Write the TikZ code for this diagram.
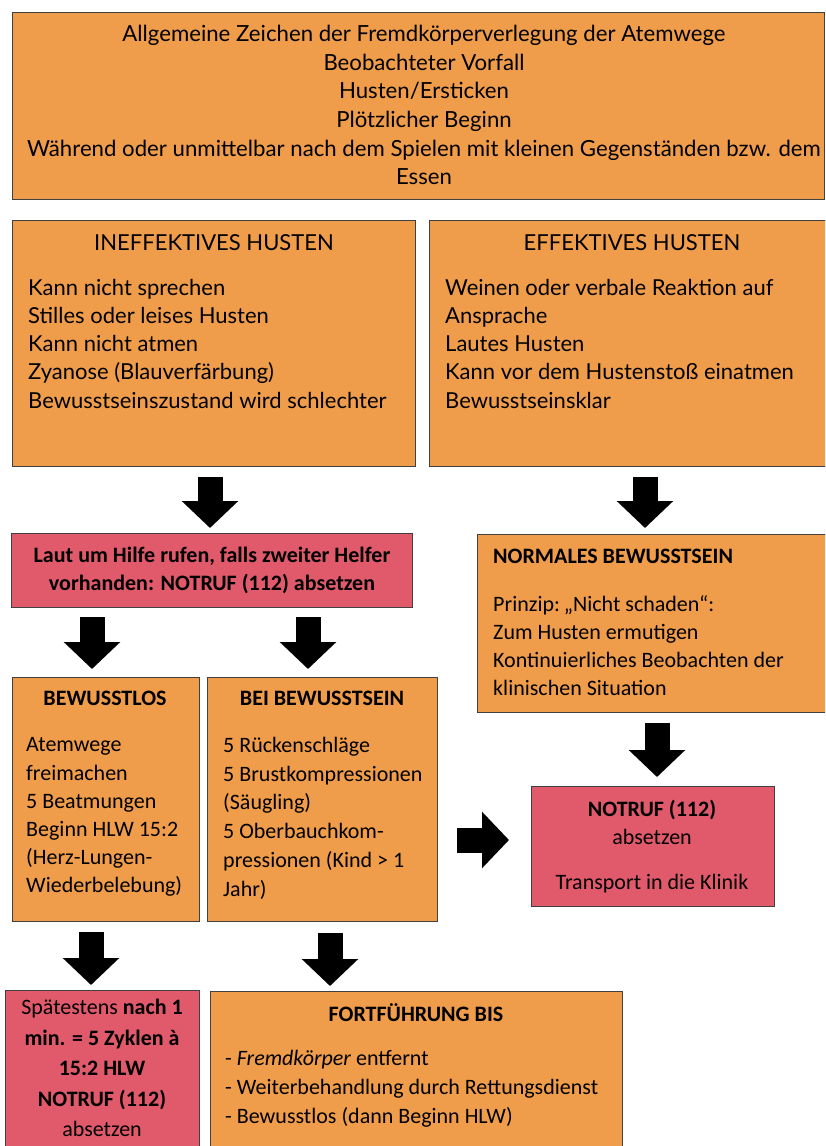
\documentclass[tikz,border=0pt]{standalone}
\usepackage{fontspec}
\setmainfont{Carlito}
\newfontfamily\lato{Lato}
\usetikzlibrary{arrows.meta}
\definecolor{orangeC}{RGB}{240,157,75}
\definecolor{pinkC}{RGB}{224,90,107}
\tikzset{
  x=1pt, y=-1pt,
  boxo/.style={draw=black!75, line width=0.9pt, fill=orangeC},
  boxp/.style={draw=black!75, line width=0.9pt, fill=pinkC},
  txt/.style={inner sep=0pt, anchor=north},
  txtl/.style={inner sep=0pt, anchor=north west, align=left},
  fatarrow/.style={line width=25pt, -{Triangle[width=55pt,length=27pt]}},
}
\newcommand{\fs}[2]{\fontsize{#1}{#2}\selectfont}
\begin{document}
\begin{tikzpicture}
\useasboundingbox (0,0) rectangle (825,1146);
\clip (0,0) rectangle (825,1146);
% boxes
\draw[boxo] (12,12) rectangle (824,199);
\draw[boxo] (12,220) rectangle (415,466);
\draw[boxo] (429,220) rectangle (830,466);
\draw[boxp] (11,533) rectangle (412,607);
\draw[boxo] (477,534) rectangle (830,712);
\draw[boxo] (12,677) rectangle (199,921);
\draw[boxo] (207,677) rectangle (437,921);
\draw[boxp] (531,786) rectangle (774,906);
\draw[boxp] (5,990) rectangle (199,1160);
\draw[boxo] (210,991) rectangle (622,1160);
% texts
\node[txt, align=center, font={\lato\fs{22.2}{28.6}}] (topT) at (424,21.5) {\strut Allgemeine Zeichen der Fremdkörperverlegung der Atemwege\\
Beobachteter Vorfall\\ Husten/Ersticken\\ Plötzlicher Beginn\\
Während oder unmittelbar nach dem Spielen mit kleinen Gegenständen bzw. dem\\ Essen};
\node[txt, font={\lato\fs{22}{28.3}}] (inT) at (214,230) {\strut INEFFEKTIVES HUSTEN};
\node[txtl, font={\lato\fs{22}{28.3}}] (inL) at (28,275) {\strut Kann nicht sprechen\\ Stilles oder leises Husten\\ Kann nicht atmen\\ Zyanose (Blauverfärbung)\\ Bewusstseinszustand wird schlechter};
\node[txt, font={\lato\fs{22}{28.3}}] (efT) at (632,230) {\strut EFFEKTIVES HUSTEN};
\node[txtl, font={\lato\fs{22}{28.3}}] (efL) at (445,275) {\strut Weinen oder verbale Reaktion auf\\ Ansprache\\ Lautes Husten\\ Kann vor dem Hustenstoß einatmen\\ Bewusstseinsklar};
\node[txt, align=center, font={\fs{22}{28}\bfseries}] (lautT) at (212,543) {\strut Laut um Hilfe rufen, falls zweiter Helfer\\ vorhanden: NOTRUF (112) absetzen};
\node[txtl, font={\fs{22}{28}\bfseries}] (normT) at (493,544) {\strut NORMALES BEWUSSTSEIN};
\node[txtl, font={\fs{22}{28}}] (normL) at (493,592) {\strut Prinzip:~\kern-1pt„Nicht schaden“:\\ Zum Husten ermutigen\\ Kontinuierliches Beobachten der\\ klinischen Situation};
\node[txt, font={\fs{22}{28}\bfseries}] (blT) at (105,686) {\strut BEWUSSTLOS};
\node[txtl, font={\fs{22}{28.2}}] (blL) at (26,732) {\strut Atemwege\\ freimachen\\ 5 Beatmungen\\ Beginn HLW 15:2\\ (Herz-Lungen-\\ Wiederbelebung)};
\node[txt, font={\fs{22}{28}\bfseries}] (bbT) at (322,686) {\strut BEI BEWUSSTSEIN};
\node[txtl, font={\fs{22}{28.8}}] (bbL) at (223,732) {\strut 5 Rückenschläge\\ 5 Brustkompressionen\\ (Säugling)\\ 5 Oberbauchkom-\\ pressionen (Kind > 1\\ Jahr)};
\node[txt, align=center, font={\fs{22}{28.5}}] (ntT) at (652,796) {\strut\textbf{NOTRUF (112)}\\ absetzen\\[16pt] Transport in die Klinik};
\node[txt, align=center, font={\fs{22}{30.5}}] (spT) at (102,993) {\strut Spätestens \textbf{nach 1}\\ \textbf{min. = 5 Zyklen à}\\ \textbf{15:2 HLW}\\ \textbf{NOTRUF (112)}\\ absetzen};
\node[txt, font={\fs{22}{28.5}\bfseries}] (foT) at (416,1001) {\strut FORTFÜHRUNG BIS};
\node[txtl, font={\fs{22}{29}}] (foL) at (225,1045) {\strut - \textit{Fremdkörper} entfernt\\ - Weiterbehandlung durch Rettungsdienst\\ - Bewusstlos (dann Beginn HLW)};
% arrows
\coordinate (a1s) at (210,477); \coordinate (a1e) at (210,528);
\coordinate (a2s) at (645,477); \coordinate (a2e) at (645,528);
\coordinate (a3s) at (92,617);  \coordinate (a3e) at (92,669);
\coordinate (a4s) at (308,617); \coordinate (a4e) at (308,669);
\coordinate (a5s) at (457,840); \coordinate (a5e) at (509,840);
\coordinate (a6s) at (657,723); \coordinate (a6e) at (657,777);
\coordinate (a7s) at (91,932);  \coordinate (a7e) at (91,985);
\coordinate (a8s) at (330,933); \coordinate (a8e) at (330,986);
\foreach \i in {1,...,8} \draw[fatarrow] (a\i s) -- (a\i e);
\end{tikzpicture}
\end{document}
